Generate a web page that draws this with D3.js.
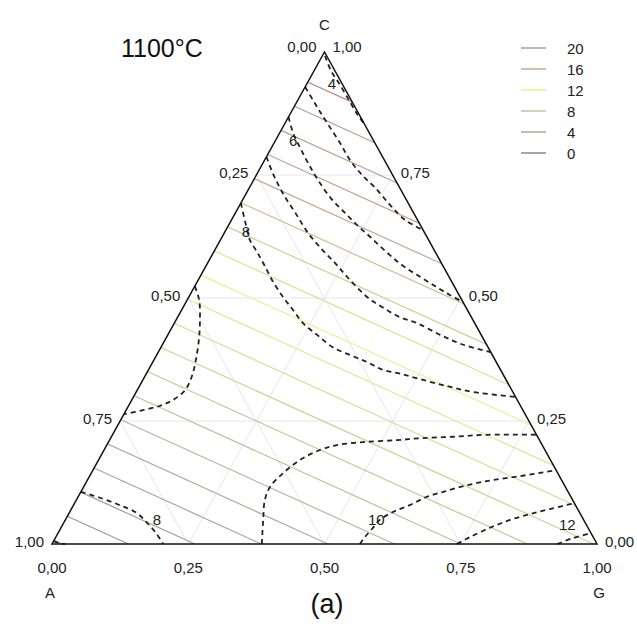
<!DOCTYPE html>
<html>
<head>
<meta charset="utf-8">
<script src="https://cdnjs.cloudflare.com/ajax/libs/d3/7.8.5/d3.min.js"></script>
<style>
    body { margin: 0; background: #fff; }
    svg { display: block; font-family: 'Liberation Sans', Arial, sans-serif; }
</style>
</head>
<body>
<svg id="chart" width="637" height="628"></svg>
<script>
// field value at the three corners (A, G, C) -> straight coloured contours
const cornerA = 0.85;
const cornerG = 9.05;
const cornerC = 21.25;
const levels = [1, 2, 3, 4, 5, 6, 7, 8, 9, 10, 11, 12, 13, 14, 15, 16, 17, 18, 19, 20];

const legendLevels = [20, 16, 12, 8, 4, 0];
const legendColors = ['#b89888', '#c8a890', '#eeee90', '#c4c898', '#a8a8a0', '#8a8a8a'];

const gridSteps = [0.25, 0.5, 0.75];
const tickSteps = [0, 0.25, 0.5, 0.75, 1];

// dashed iso-lines, points as [G, C]
const dash4 = [[0.005, 0.992], [0.03, 0.963], [0.062, 0.933], [0.098, 0.898], [0.125, 0.872], [0.146, 0.854]];
const dash5 = [[0, 0.929], [0.028, 0.902], [0.053, 0.878], [0.081, 0.852], [0.121, 0.815], [0.157, 0.78],
    [0.194, 0.75], [0.231, 0.724], [0.276, 0.689], [0.318, 0.659], [0.362, 0.638]];
const dash6 = [[0, 0.868], [0.025, 0.835], [0.053, 0.805], [0.083, 0.774], [0.118, 0.74], [0.16, 0.703],
    [0.201, 0.673], [0.236, 0.648], [0.272, 0.624], [0.319, 0.592], [0.362, 0.565], [0.404, 0.543],
    [0.445, 0.522], [0.477, 0.506], [0.508, 0.492]];
const dash7 = [[0, 0.787], [0.028, 0.754], [0.067, 0.713], [0.11, 0.673], [0.154, 0.632], [0.197, 0.598],
    [0.234, 0.571], [0.27, 0.543], [0.327, 0.502], [0.368, 0.48], [0.408, 0.461], [0.445, 0.449],
    [0.5, 0.425], [0.552, 0.405], [0.61, 0.39]];
const dash8 = [[0, 0.693], [0.032, 0.648], [0.054, 0.618], [0.079, 0.594], [0.108, 0.565], [0.139, 0.533],
    [0.173, 0.502], [0.204, 0.476], [0.236, 0.449], [0.274, 0.425], [0.315, 0.4], [0.355, 0.384],
    [0.393, 0.37], [0.43, 0.354], [0.466, 0.346], [0.508, 0.335], [0.564, 0.321], [0.618, 0.309], [0.701, 0.299]];
const dashLoop = [[0, 0.524], [0.022, 0.496], [0.044, 0.455], [0.062, 0.415], [0.077, 0.374], [0.086, 0.342],
    [0.088, 0.313], [0.076, 0.293], [0.058, 0.281], [0.031, 0.272], [0, 0.264]];
const dash8low = [[0, 0.106], [0.041, 0.094], [0.085, 0.079], [0.124, 0.063], [0.153, 0.043], [0.18, 0.022], [0.204, 0]];
const dashCornerA = [[0, 0.006], [0.012, 0.002], [0.024, 0]];
const dash9 = [[0.385, 0], [0.363, 0.049], [0.346, 0.089], [0.342, 0.116], [0.352, 0.144], [0.37, 0.171],
    [0.396, 0.191], [0.422, 0.201], [0.467, 0.207], [0.527, 0.211], [0.568, 0.215], [0.627, 0.218],
    [0.687, 0.222], [0.778, 0.222]];
const dash10 = [[0.565, 0], [0.567, 0.014], [0.572, 0.031], [0.577, 0.049], [0.593, 0.065], [0.617, 0.079],
    [0.64, 0.096], [0.665, 0.106], [0.691, 0.116], [0.718, 0.124], [0.744, 0.13], [0.79, 0.138], [0.85, 0.15]];
const dash12 = [[0.743, 0], [0.76, 0.014], [0.787, 0.033], [0.816, 0.049], [0.847, 0.061], [0.878, 0.071], [0.917, 0.083]];
const dashCornerG = [[0.927, 0], [0.95, 0.012], [0.978, 0.022]];
const dashedLines = [dash4, dash5, dash6, dash7, dash8, dashLoop, dash8low, dashCornerA, dash9, dash10, dash12, dashCornerG];

const isoLabels = ['4', '6', '8', '8', '10', '12'];
const isoLabelPos = [[0.046, 0.935], [0.032, 0.821], [0.038, 0.636], [0.168, 0.049], [0.57, 0.05], [0.926, 0.039]];

const svg = d3.select('#chart');
const x = d3.scaleLinear().domain([0, 1]).range([52, 597]);
const y = d3.scaleLinear().domain([0, 1]).range([544, 52]);
const project = ([g, c]) => [x(g + c / 2), y(c)];
const color = d3.scaleLinear().domain(legendLevels).range(legendColors);
const comma = (v) => d3.format('.2f')(v).replace('.', ',');

const fieldAt = ([g, c]) => cornerA * (1 - g - c) + cornerG * g + cornerC * c;

const crossings = (level) => {
    const corners = [[0, 0], [1, 0], [0, 1]];
    const pts = [];
    corners.forEach((p, i) => {
        const q = corners[(i + 1) % 3];
        const fp = fieldAt(p);
        const fq = fieldAt(q);
        if ((fp - level) * (fq - level) < 0) {
            const t = (level - fp) / (fq - fp);
            pts.push([p[0] + t * (q[0] - p[0]), p[1] + t * (q[1] - p[1])]);
        }
    });
    return pts;
};

// faint grid
const gridSegs = [];
gridSteps.forEach((v) => {
    gridSegs.push([[0, v], [1 - v, v]]);
    gridSegs.push([[v, 0], [v, 1 - v]]);
    gridSegs.push([[1 - v, 0], [0, 1 - v]]);
});
svg.append('g')
    .selectAll('line')
    .data(gridSegs)
    .enter()
    .append('line')
    .attr('x1', (d) => project(d[0])[0])
    .attr('y1', (d) => project(d[0])[1])
    .attr('x2', (d) => project(d[1])[0])
    .attr('y2', (d) => project(d[1])[1])
    .attr('stroke', '#e4e6ee')
    .attr('stroke-width', 1);

// coloured contour lines
svg.append('g')
    .selectAll('line')
    .data(levels.map((l) => ({ level: l, pts: crossings(l) })).filter((d) => d.pts.length === 2))
    .enter()
    .append('line')
    .attr('x1', (d) => project(d.pts[0])[0])
    .attr('y1', (d) => project(d.pts[0])[1])
    .attr('x2', (d) => project(d.pts[1])[0])
    .attr('y2', (d) => project(d.pts[1])[1])
    .attr('stroke', (d) => color(d.level))
    .attr('stroke-width', 1.2);

// dashed curves
const line = d3.line()
    .x((d) => project(d)[0])
    .y((d) => project(d)[1])
    .curve(d3.curveCatmullRom);

svg.append('g')
    .selectAll('path')
    .data(dashedLines)
    .enter()
    .append('path')
    .attr('d', line)
    .attr('fill', 'none')
    .attr('stroke', '#222')
    .attr('stroke-width', 1.8)
    .attr('stroke-dasharray', '5,4');

// triangle
svg.append('path')
    .attr('d', line.curve(d3.curveLinearClosed)([[0, 0], [1, 0], [0, 1]]))
    .attr('fill', 'none')
    .attr('stroke', '#111')
    .attr('stroke-width', 1.5);

svg.append('g')
    .selectAll('text')
    .data(isoLabels)
    .enter()
    .append('text')
    .attr('x', (d, i) => project(isoLabelPos[i])[0])
    .attr('y', (d, i) => project(isoLabelPos[i])[1])
    .attr('text-anchor', 'middle')
    .attr('dominant-baseline', 'central')
    .attr('font-size', 15)
    .attr('fill', '#222')
    .text((d) => d);

// tick labels
const ticks = svg.append('g').attr('font-size', 15).attr('fill', '#222');

ticks.selectAll('.tl')
    .data(tickSteps)
    .enter()
    .append('text')
    .attr('class', 'tl')
    .attr('x', (d) => project([0, d])[0] - 8)
    .attr('y', (d) => project([0, d])[1] - 3 - (d === 1 ? 3 : 0))
    .attr('text-anchor', 'end')
    .attr('dominant-baseline', 'central')
    .text((d) => comma(1 - d));

ticks.selectAll('.tr')
    .data(tickSteps)
    .enter()
    .append('text')
    .attr('class', 'tr')
    .attr('x', (d) => project([1 - d, d])[0] + 8)
    .attr('y', (d) => project([1 - d, d])[1] - 3 - (d === 1 ? 3 : 0))
    .attr('text-anchor', 'start')
    .attr('dominant-baseline', 'central')
    .text((d) => comma(d));

ticks.selectAll('.tb')
    .data(tickSteps)
    .enter()
    .append('text')
    .attr('class', 'tb')
    .attr('x', (d) => project([d, 0])[0])
    .attr('y', (d) => project([d, 0])[1] + 29)
    .attr('text-anchor', 'middle')
    .text((d) => comma(d));

ticks.append('text')
    .attr('x', project([0, 0])[0] - 2)
    .attr('y', project([0, 0])[1] + 54)
    .attr('text-anchor', 'middle')
    .text('A');

ticks.append('text')
    .attr('x', project([1, 0])[0] + 2)
    .attr('y', project([1, 0])[1] + 54)
    .attr('text-anchor', 'middle')
    .text('G');

ticks.append('text')
    .attr('x', project([0, 1])[0])
    .attr('y', project([0, 1])[1] - 22)
    .attr('text-anchor', 'middle')
    .text('C');

// legend
const legend = svg.append('g').attr('transform', 'translate(521,48)');
const rows = legend.selectAll('g')
    .data(legendLevels)
    .enter()
    .append('g')
    .attr('transform', (d, i) => `translate(0,${i * 21})`);

rows.append('line')
    .attr('x1', 0)
    .attr('x2', 25)
    .attr('stroke', (d) => color(d))
    .attr('stroke-width', 1.5);

rows.append('text')
    .attr('x', 46)
    .attr('dominant-baseline', 'central')
    .attr('font-size', 15)
    .attr('fill', '#222')
    .text((d) => d);

svg.append('text')
    .attr('x', 121)
    .attr('y', 57)
    .attr('font-size', 25)
    .attr('fill', '#111')
    .text('1100°C');

svg.append('text')
    .attr('x', 327)
    .attr('y', 613)
    .attr('text-anchor', 'middle')
    .attr('font-size', 27)
    .attr('fill', '#111')
    .text('(a)');
</script>
</body>
</html>
